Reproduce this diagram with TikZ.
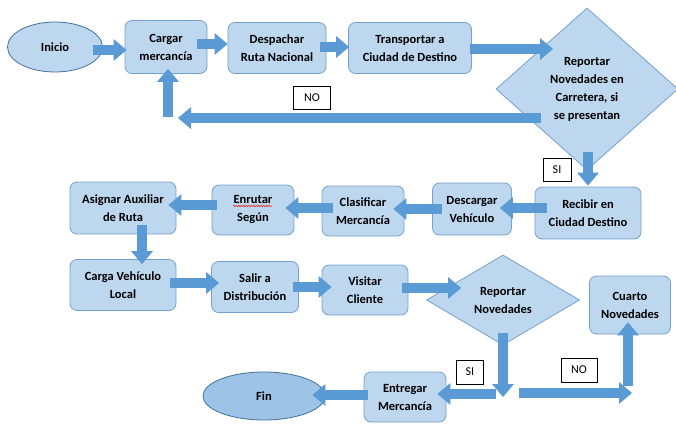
\documentclass[tikz,border=0pt]{standalone}
\usepackage{fontspec}
\setmainfont{Carlito}
\usetikzlibrary{shapes.geometric,arrows.meta,calc,decorations.pathmorphing}
\definecolor{boxfill}{HTML}{BDD7EE}
\definecolor{boxline}{HTML}{76A0CE}
\definecolor{flowblue}{HTML}{5B9BD5}
\definecolor{endfill}{HTML}{9DC3E6}
\definecolor{endline}{HTML}{41719C}
\definecolor{spellred}{HTML}{E03030}
\begin{document}
\begin{tikzpicture}[x=1pt, y=-1pt,
    font=\fontsize{12.5}{18}\selectfont\bfseries,
    stepbox/.style={draw=boxline, fill=boxfill, line width=0.8pt, rounded corners=7pt, align=center, inner sep=2pt},
    endbox/.style={ellipse, draw=endline, fill=#1, line width=0.8pt, inner sep=0pt},
    askbox/.style={diamond, draw=boxline, fill=boxfill, line width=0.8pt, align=center, inner sep=0pt},
    tagbox/.style={draw=black, fill=white, line width=0.7pt, font=\fontsize{12}{14}\selectfont, inner sep=0pt},
    flow/.style={draw=flowblue, line width=10pt, -{Triangle[length=13pt, width=22pt, line width=0pt]}}]
  \useasboundingbox (0,0) rectangle (676,426);
  % first row
  \node [endbox=boxfill, minimum width=95, minimum height=50] (inicio) at (55,47) {Inicio};
  \node [stepbox, minimum width=82, minimum height=53] (cargar) at (166,47) {Cargar\\mercancía};
  \node [stepbox, minimum width=98, minimum height=51] (despachar) at (277,48) {Despachar\\Ruta Nacional};
  \node [stepbox, minimum width=123, minimum height=51] (transportar) at (410,48) {Transportar a\\Ciudad de Destino};
  \node [askbox, minimum width=182, minimum height=162] (reporte) at (587,89) {Reportar\\Novedades en\\Carretera, si\\se presentan};
  % second row
  \node [stepbox, minimum width=106, minimum height=52] (recibir) at (588,213) {Recibir en\\Ciudad Destino};
  \node [stepbox, minimum width=79, minimum height=52] (descargar) at (472,209) {Descargar\\Vehículo};
  \node [stepbox, minimum width=82, minimum height=50] (clasificar) at (363,211) {Clasificar\\Mercancía};
  \node [stepbox, minimum width=82, minimum height=50] (enrutar) at (253,210) {Enrutar\\Según};
  \node [stepbox, minimum width=106, minimum height=52] (asignar) at (123,208) {Asignar Auxiliar\\de Ruta};
  % third row
  \node [stepbox, minimum width=106, minimum height=51] (cargaloc) at (123,285) {Carga Vehículo\\Local};
  \node [stepbox, minimum width=87, minimum height=51] (salir) at (255,287) {Salir a\\Distribución};
  \node [stepbox, minimum width=86, minimum height=50] (visitar) at (365,290) {Visitar\\Cliente};
  \node [askbox, minimum width=153, minimum height=90] (novedad) at (503,300) {Reportar\\Novedades};
  \node [stepbox, minimum width=81, minimum height=58] (cuarto) at (630,305) {Cuarto\\Novedades};
  % last row
  \node [stepbox, minimum width=82, minimum height=50] (entregar) at (405,397) {Entregar\\Mercancía};
  \node [endbox=endfill, minimum width=122, minimum height=48] (fin) at (264,396) {Fin};
  % answer tags
  \node [tagbox, minimum width=37, minimum height=23] (tagno) at (312,98) {NO};
  \node [tagbox, minimum width=28, minimum height=23] (tagsi) at (557,170) {SI};
  \node [tagbox, minimum width=27, minimum height=24] (tagsib) at (470,372) {SI};
  \node [tagbox, minimum width=36, minimum height=24] (tagnob) at (579,370) {NO};
  %\draw [spellred] (enrutar) -- (enrutar);
  \draw [spellred, line width=0.6pt, decorate, decoration={snake, amplitude=0.7pt, segment length=2.5pt}]
        ($(enrutar.center)+(-20,-4)$) -- ($(enrutar.center)+(19,-4)$);
  % free ends of the split arrows
  \coordinate (noend) at (178,118);
  \coordinate (noup) at (168,117);
  \coordinate (bajada) at (503,397);
  \coordinate (siout) at (496,394);
  \coordinate (noout) at (519,393);
  \coordinate (noright) at (632,393);
  \coordinate (noupb) at (628,386);
  % arrows
  \draw [flow] ($(inicio.east)+(-10,3)$) -- ($(cargar.west)+(2,3)$);
  \draw [flow] ($(cargar.east)+(-10,-3)$) -- ($(despachar.west)+(0,-4)$);
  \draw [flow] ($(despachar.east)+(-6,-1)$) -- ($(transportar.west)+(1,-1)$);
  \draw [flow] ($(transportar.east)+(-2,1)$) -- ($(transportar.east -| reporte.north)+(-34,1)$);
  \draw [flow] ($(reporte.west)+(45,29)$) -- (noend);
  \draw [flow] (noup) -- ($(cargar.south)+(2,-5)$);
  \draw [flow] ($(reporte.south)+(1,-18)$) -- ($(recibir.north)+(0,-1)$);
  \draw [flow] ($(recibir.west)+(12,-5)$) -- ($(descargar.east)+(-12,-1)$);
  \draw [flow] ($(descargar.west)+(10,0)$) -- ($(clasificar.east)+(-11,-2)$);
  \draw [flow] ($(clasificar.west)+(11,-3)$) -- ($(enrutar.east)+(-9,-2)$);
  \draw [flow] ($(enrutar.west)+(5,-5)$) -- ($(asignar.east)+(-8,-3)$);
  \draw [flow] ($(asignar.south)+(19,-9)$) -- ($(cargaloc.north)+(19,5)$);
  \draw [flow] ($(cargaloc.east)+(-6,-2)$) -- ($(salir.west)+(8,-4)$);
  \draw [flow] ($(salir.east)+(-6,0)$) -- ($(visitar.west)+(10,-3)$);
  \draw [flow] ($(visitar.east)+(-6,-2)$) -- ($(novedad.west)+(35,-12)$);
  \draw [flow] ($(novedad.south)+(0,-12)$) -- (bajada);
  \draw [flow] (siout) -- ($(entregar.east)+(-9,-3)$);
  \draw [flow] (noout) -- (noright);
  \draw [flow] (noupb) -- ($(cuarto.south)+(-2,-12)$);
  \draw [flow] ($(entregar.west)+(4,-2)$) -- ($(fin.east)+(-13,-1)$);
\end{tikzpicture}
\end{document}
